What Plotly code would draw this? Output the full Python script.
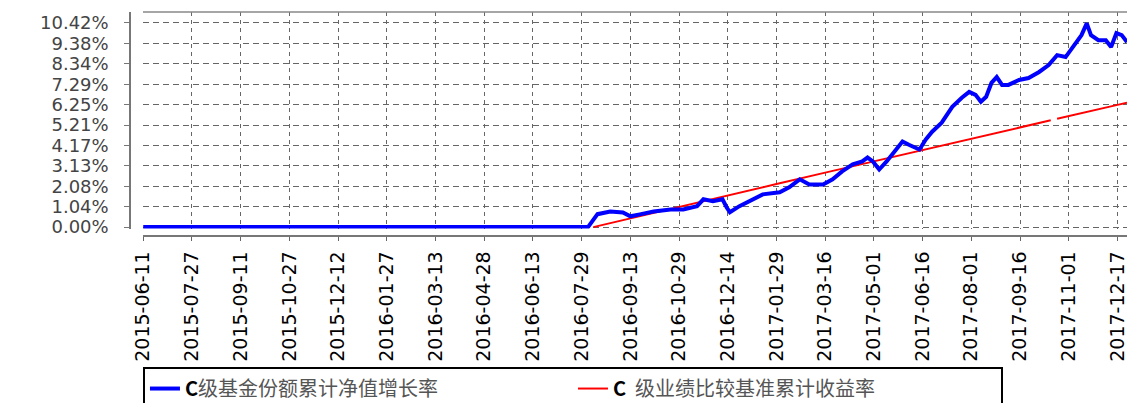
import plotly.graph_objects as go

# ---- data ----
fund_dates = ["2015-06-11", "2016-08-04", "2016-08-13", "2016-08-25", "2016-09-06", "2016-09-13",
              "2016-09-22", "2016-10-05", "2016-10-21", "2016-11-02", "2016-11-15", "2016-11-21",
              "2016-11-30", "2016-12-09", "2016-12-13", "2016-12-16", "2016-12-25", "2017-01-04",
              "2017-01-16", "2017-02-01", "2017-02-10", "2017-02-20", "2017-03-01", "2017-03-14",
              "2017-03-23", "2017-04-01", "2017-04-11", "2017-04-20", "2017-04-25", "2017-04-30",
              "2017-05-06", "2017-05-13", "2017-05-18", "2017-05-23", "2017-05-28", "2017-06-03",
              "2017-06-13", "2017-06-19", "2017-06-25", "2017-07-04", "2017-07-14", "2017-07-23",
              "2017-07-30", "2017-08-05", "2017-08-10", "2017-08-15", "2017-08-20", "2017-08-25",
              "2017-08-30", "2017-09-05", "2017-09-15", "2017-09-24", "2017-10-04", "2017-10-13",
              "2017-10-21", "2017-10-29", "2017-11-08", "2017-11-13", "2017-11-18", "2017-11-22",
              "2017-11-29", "2017-12-06", "2017-12-11", "2017-12-16", "2017-12-21", "2017-12-26"]
fund_values = [0.00, 0.00, 0.66, 0.80, 0.75, 0.55,
               0.65, 0.80, 0.90, 0.90, 1.07, 1.42,
               1.32, 1.42, 1.00, 0.76, 1.07, 1.32,
               1.67, 1.78, 2.03, 2.44, 2.18, 2.18,
               2.44, 2.84, 3.20, 3.35, 3.55, 3.35,
               2.94, 3.35, 3.70, 4.06, 4.37, 4.20,
               3.96, 4.47, 4.87, 5.33, 6.14, 6.60,
               6.90, 6.75, 6.40, 6.65, 7.36, 7.66,
               7.26, 7.26, 7.51, 7.61, 7.92, 8.27,
               8.78, 8.68, 9.39, 9.80, 10.40, 9.80,
               9.54, 9.54, 9.19, 9.90, 9.80, 9.44]

bench_dates = ["2016-08-09", "2016-09-13", "2016-10-29", "2016-12-14", "2017-01-29", "2017-03-16",
               "2017-05-01", "2017-06-16", "2017-08-01", "2017-09-16", "2017-10-15", "2017-10-18",
               "2017-10-21", "2017-11-01", "2017-12-17", "2017-12-26"]
bench_values = [0.00, 0.45, 1.05, 1.62, 2.20, 2.78,
                3.35, 3.93, 4.50, 5.08, 5.45, None,
                5.53, 5.66, 6.24, 6.35]

x_ticks = ["2015-06-11", "2015-07-27", "2015-09-11", "2015-10-27", "2015-12-12", "2016-01-27",
           "2016-03-13", "2016-04-28", "2016-06-13", "2016-07-29", "2016-09-13", "2016-10-29",
           "2016-12-14", "2017-01-29", "2017-03-16", "2017-05-01", "2017-06-16", "2017-08-01",
           "2017-09-16", "2017-11-01", "2017-12-17"]
y_tick_vals = [0.00, 1.04, 2.08, 3.13, 4.17, 5.21, 6.25, 7.29, 8.34, 9.38, 10.42]
y_tick_text = ["0.00%", "1.04%", "2.08%", "3.13%", "4.17%", "5.21%", "6.25%", "7.29%", "8.34%", "9.38%", "10.42%"]

name_fund = "<b><span style='color:#000'>C</span></b>级基金份额累计净值增长率"
name_bench = "<b><span style='color:#000'>C</span></b>  级业绩比较基准累计收益率"

fig = go.Figure()
fig.add_trace(go.Scatter(x=bench_dates, y=bench_values, mode="lines", name=name_bench,
                         line=dict(color="#ff0000", width=2), connectgaps=False))
fig.add_trace(go.Scatter(x=fund_dates, y=fund_values, mode="lines", name=name_fund,
                         line=dict(color="#0000ff", width=4)))

fig.update_layout(
    width=1127, height=403,
    margin=dict(l=130, r=0, t=12, b=167, autoexpand=False),
    paper_bgcolor="white", plot_bgcolor="white",
    showlegend=True,
    legend=dict(orientation="h", x=0.013, y=-0.585, xanchor="left", yanchor="top",
                traceorder="reversed",
                bordercolor="#000", borderwidth=2, bgcolor="white",
                font=dict(family="Noto Sans CJK SC", size=20, color="#555"),
                entrywidth=383, entrywidthmode="pixels"),
    xaxis=dict(
        type="date", domain=[0.013, 1], anchor="free", position=0, automargin=False,
        range=["2015-06-10 18:00", "2017-12-26"],
        tickvals=x_ticks, tickformat="%Y-%m-%d", tickangle=-90,
        tickfont=dict(family="DejaVu Sans", size=19, color="#000"),
        ticks="outside", ticklen=4, tickcolor="#666", ticklabelstandoff=3,
        ticklabeloverflow="allow",
        showline=True, linecolor="#777", linewidth=1.5,
        showgrid=True, gridcolor="#666", gridwidth=1, griddash="4px,4px",
        zeroline=False,
    ),
    yaxis=dict(
        domain=[0.033, 1], anchor="free", position=0, automargin=False,
        range=[-0.077, 10.98],
        tickvals=y_tick_vals, ticktext=y_tick_text,
        tickfont=dict(family="DejaVu Sans", size=18, color="#444"),
        ticks="outside", ticklen=5, tickcolor="#777", ticklabelstandoff=12,
        showline=True, linecolor="#777", linewidth=1.5,
        showgrid=True, gridcolor="#666", gridwidth=1, griddash="6px,4px",
        zeroline=False,
    ),
    shapes=[dict(type="line", xref="paper", yref="paper", x0=0.013, x1=1, y0=1, y1=1,
                 line=dict(color="#888", width=1.5))],
)

fig.write_html("out.html", config={"displayModeBar": False},
               post_script="document.body.style.margin='0px';")
